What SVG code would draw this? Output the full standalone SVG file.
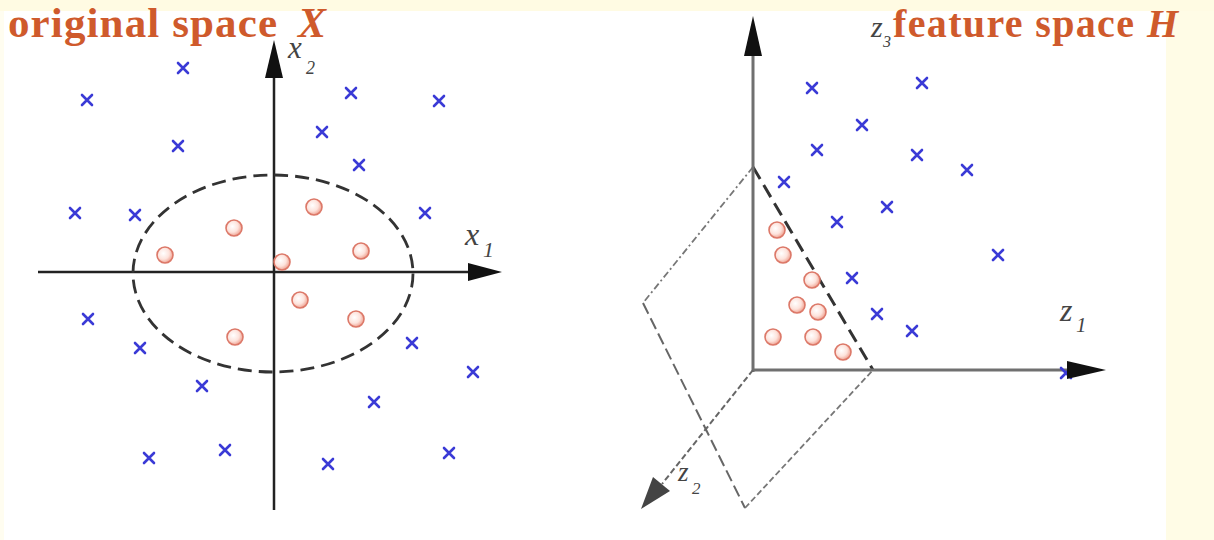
<svg xmlns="http://www.w3.org/2000/svg" xmlns:xlink="http://www.w3.org/1999/xlink" width="1214" height="540" viewBox="0 0 1214 540">
<defs>
<style>
.title{font-family:"Liberation Serif",serif;font-weight:bold;fill:#cf5a2c;}
.lab{font-family:"Liberation Serif",serif;font-style:italic;fill:#444;}
.ax{stroke:#222;stroke-width:2.5;fill:none;}
.ax2{stroke:#707070;stroke-width:3;fill:none;}
.cross{stroke:#3a3ad6;stroke-width:2.6;fill:none;stroke-linecap:round;}
.ball{fill:url(#rg);stroke:#dc7868;stroke-width:1.6;}
</style>
<radialGradient id="rg" cx="0.4" cy="0.4" r="0.6">
<stop offset="0" stop-color="#ffffff"/>
<stop offset="0.6" stop-color="#fde3dc"/>
<stop offset="1" stop-color="#f0a595"/>
</radialGradient>
<path id="x" class="cross" d="M-5,-5L5,5M5,-5L-5,5"/>
<circle id="o" class="ball" r="8"/>
</defs>
<rect width="1214" height="540" fill="#ffffff"/>
<rect width="1214" height="11" fill="#fffbe3"/>
<rect x="1166" y="11" width="48" height="529" fill="#fffce6"/>
<rect x="0" y="11" width="4" height="529" fill="#fffdf0"/>

<g id="left-title">
<text class="title" x="8" y="37" font-size="43" textLength="269" lengthAdjust="spacing">original space</text>
<text class="title" x="298" y="37" font-size="42" font-style="italic">X</text>
</g>

<g id="left-axes">
<line class="ax" x1="274" y1="510" x2="274" y2="70"/>
<polygon points="274,40 265,78 283,78" fill="#111"/>
<line class="ax" x1="38" y1="272" x2="475" y2="272" stroke="#555"/>
<polygon points="502,272 468,263 468,281" fill="#111"/>
<text class="lab" x="288" y="58" font-size="31">x</text>
<text class="lab" x="306" y="74" font-size="18">2</text>
<text class="lab" x="465" y="245" font-size="32" fill="#222">x</text>
<text class="lab" x="483" y="257" font-size="22" fill="#222">1</text>
</g>

<g id="ellipse">
<ellipse cx="273" cy="273.5" rx="140" ry="98.5" fill="none" stroke="#333" stroke-width="2.8" stroke-dasharray="14 7"/>
</g>

<g id="left-crosses">
<use xlink:href="#x" x="183" y="68"/>
<use xlink:href="#x" x="87" y="100"/>
<use xlink:href="#x" x="351" y="93"/>
<use xlink:href="#x" x="439" y="101"/>
<use xlink:href="#x" x="178" y="146"/>
<use xlink:href="#x" x="322" y="132"/>
<use xlink:href="#x" x="359" y="165"/>
<use xlink:href="#x" x="75" y="213"/>
<use xlink:href="#x" x="135" y="215"/>
<use xlink:href="#x" x="425" y="213"/>
<use xlink:href="#x" x="88" y="319"/>
<use xlink:href="#x" x="140" y="348"/>
<use xlink:href="#x" x="202" y="386"/>
<use xlink:href="#x" x="412" y="343"/>
<use xlink:href="#x" x="473" y="372"/>
<use xlink:href="#x" x="374" y="402"/>
<use xlink:href="#x" x="149" y="458"/>
<use xlink:href="#x" x="225" y="450"/>
<use xlink:href="#x" x="328" y="464"/>
<use xlink:href="#x" x="449" y="453"/>
</g>

<g id="left-circles">
<use xlink:href="#o" x="165" y="255"/>
<use xlink:href="#o" x="234" y="228"/>
<use xlink:href="#o" x="314" y="207"/>
<use xlink:href="#o" x="361" y="251"/>
<use xlink:href="#o" x="282" y="262"/>
<use xlink:href="#o" x="300" y="300"/>
<use xlink:href="#o" x="356" y="319"/>
<use xlink:href="#o" x="235" y="337"/>
</g>

<g id="right-title">
<text class="lab" x="871" y="37" font-size="30" fill="#3a3a3a">z</text>
<text class="lab" x="883" y="47" font-size="16" fill="#3a3a3a">3</text>
<text class="title" x="893" y="37" font-size="40" textLength="241" lengthAdjust="spacing">feature space</text>
<text class="title" x="1147" y="37" font-size="40" font-style="italic">H</text>
</g>

<g id="plane">
<line x1="753" y1="167" x2="643" y2="303" stroke="#777" stroke-width="1.8" stroke-dasharray="7 3 2 3"/>
<line x1="643" y1="303" x2="745" y2="508" stroke="#666" stroke-width="2" stroke-dasharray="12 5"/>
<line x1="745" y1="508" x2="873" y2="370" stroke="#777" stroke-width="1.8" stroke-dasharray="6 3"/>
<line x1="753" y1="167" x2="873" y2="370" stroke="#333" stroke-width="3" stroke-dasharray="14 7"/>
</g>

<g id="right-axes">
<line class="ax2" x1="753" y1="372" x2="753" y2="50"/>
<polygon points="753,16 744,56 762,56" fill="#111"/>
<line class="ax2" x1="752" y1="370" x2="1072" y2="370"/>
<line x1="753" y1="370" x2="662" y2="484" stroke="#666" stroke-width="2" stroke-dasharray="6 3"/>
<polygon points="641,509 653,477 670,491" fill="#444"/>
<text class="lab" x="1060" y="321" font-size="32" fill="#333">z</text>
<text class="lab" x="1076" y="332" font-size="21" fill="#333">1</text>
<text class="lab" x="678" y="481" font-size="27" fill="#444">z</text>
<text class="lab" x="692" y="494" font-size="17" fill="#444">2</text>
</g>

<g id="right-crosses">
<use xlink:href="#x" x="812" y="88"/>
<use xlink:href="#x" x="922" y="83"/>
<use xlink:href="#x" x="862" y="125"/>
<use xlink:href="#x" x="817" y="150"/>
<use xlink:href="#x" x="917" y="155"/>
<use xlink:href="#x" x="967" y="170"/>
<use xlink:href="#x" x="784" y="182"/>
<use xlink:href="#x" x="887" y="207"/>
<use xlink:href="#x" x="837" y="222"/>
<use xlink:href="#x" x="998" y="255"/>
<use xlink:href="#x" x="852" y="278"/>
<use xlink:href="#x" x="877" y="314"/>
<use xlink:href="#x" x="912" y="331"/>
<use xlink:href="#x" x="1066" y="373"/>
</g>
<polygon points="1106,370 1067,361 1067,379" fill="#111"/>

<g id="right-circles">
<use xlink:href="#o" x="777" y="230"/>
<use xlink:href="#o" x="783" y="255"/>
<use xlink:href="#o" x="812" y="280"/>
<use xlink:href="#o" x="797" y="305"/>
<use xlink:href="#o" x="818" y="312"/>
<use xlink:href="#o" x="773" y="337"/>
<use xlink:href="#o" x="813" y="337"/>
<use xlink:href="#o" x="843" y="352"/>
</g>
</svg>
